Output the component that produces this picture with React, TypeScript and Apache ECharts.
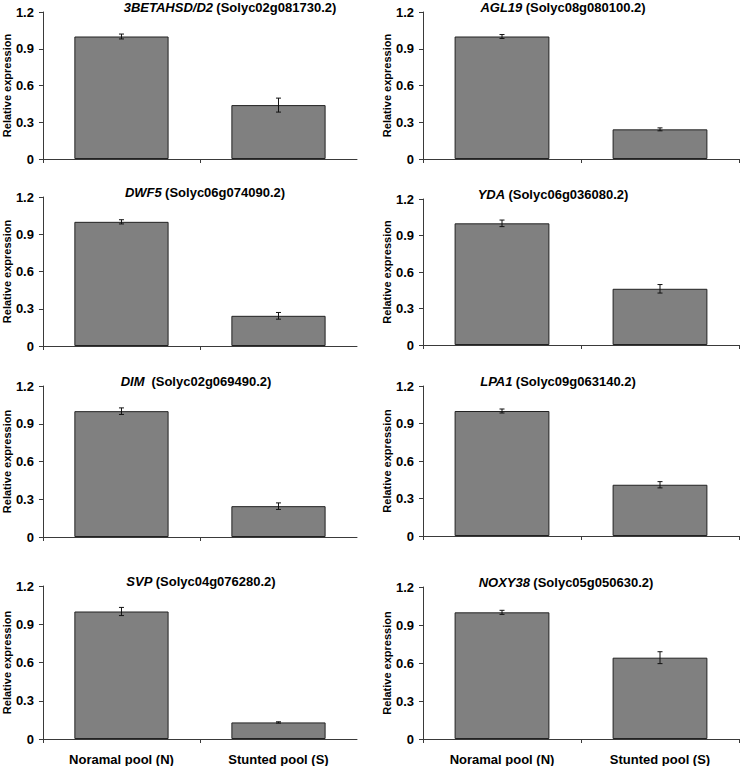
import React, { useEffect, useRef } from "react";
import * as echarts from "echarts";

const categories = ["Noramal pool (N)", "Stunted pool (S)"];
const genes = ["3BETAHSD/D2", "AGL19", "DWF5", "YDA", "DIM ", "LPA1", "SVP", "NOXY38"];
const geneIds = [
  "Solyc02g081730.2",
  "Solyc08g080100.2",
  "Solyc06g074090.2",
  "Solyc06g036080.2",
  "Solyc02g069490.2",
  "Solyc09g063140.2",
  "Solyc04g076280.2",
  "Solyc05g050630.2",
];
const normalValues = [1, 1, 1, 1, 1, 1, 1, 1];
const stuntedValues = [0.44, 0.242, 0.243, 0.462, 0.245, 0.41, 0.13, 0.642];
const normalErr = [0.02, 0.016, 0.017, 0.027, 0.026, 0.016, 0.032, 0.016];
const stuntedErr = [0.057, 0.012, 0.027, 0.035, 0.026, 0.025, 0.005, 0.047];
const yTicks = [0, 0.3, 0.6, 0.9, 1.2];

// layout (pixels) per panel: [left, top, width, height]
const panels = [
  [42, 12, 315, 147],
  [423, 12, 316, 147],
  [42, 197, 315, 149],
  [423, 199, 316, 146],
  [42, 386, 315, 151],
  [423, 386, 316, 150],
  [42, 586, 315, 154],
  [423, 587, 316, 153],
];
const titleCenters = [230, 563, 205, 553, 196, 558, 201, 566];

const FONT = "'Liberation Sans', Arial, Helvetica, sans-serif";
const AXIS_COLOR = "#3a3a3a";

export default function App() {
  const ref = useRef<HTMLDivElement>(null);
  useEffect(() => {
    if (!ref.current) return;
    const chart = echarts.init(ref.current, undefined, { renderer: "svg" });
    const grid: any[] = [];
    const xAxis: any[] = [];
    const yAxis: any[] = [];
    const series: any[] = [];
    const graphic: any[] = [];
    genes.forEach((g, i) => {
      const [l, t, w, h] = panels[i];
      const isBottom = i >= 6;
      grid.push({ left: l, top: t, width: w, height: h, containLabel: false });
      xAxis.push({
        type: "category",
        gridIndex: i,
        data: categories,
        axisLine: { lineStyle: { color: AXIS_COLOR, width: 1 } },
        axisTick: { show: true, length: 4, lineStyle: { color: AXIS_COLOR } },
        axisLabel: {
          show: isBottom,
          margin: 14,
          fontFamily: FONT,
          fontWeight: "bold",
          fontSize: 13,
          color: "#000",
        },
      });
      yAxis.push({
        type: "value",
        gridIndex: i,
        min: 0,
        max: 1.2,
        interval: 0.3,
        splitLine: { show: false },
        axisLine: { show: true, lineStyle: { color: AXIS_COLOR, width: 1 } },
        axisTick: { show: true, length: 4, lineStyle: { color: AXIS_COLOR } },
        axisLabel: {
          margin: 9,
          fontFamily: FONT,
          fontWeight: "bold",
          fontSize: 13,
          color: "#000",
          formatter: (v: number) => (yTicks.includes(+v.toFixed(1)) ? String(+v.toFixed(1)) : ""),
        },
        name: "Relative expression",
        nameLocation: "middle",
        nameGap: 27,
        nameTextStyle: {
          fontFamily: FONT,
          fontWeight: "bold",
          fontSize: 11,
          color: "#000",
        },
      });
      series.push({
        type: "bar",
        xAxisIndex: i,
        yAxisIndex: i,
        data: [normalValues[i], stuntedValues[i]],
        barCategoryGap: "40%",
        itemStyle: { color: "#808080", borderColor: "#222", borderWidth: 1 },
      });
      series.push({
        type: "custom",
        xAxisIndex: i,
        yAxisIndex: i,
        z: 5,
        data: [
          [0, normalValues[i], normalErr[i]],
          [1, stuntedValues[i], stuntedErr[i]],
        ],
        encode: { x: 0, y: 1 },
        renderItem: (params: any, api: any) => {
          const x = api.value(0);
          const v = api.value(1);
          const e = api.value(2);
          const hi = api.coord([x, v + e]);
          const lo = api.coord([x, v - e]);
          const cw = 2.5;
          const st = { stroke: "#111", lineWidth: 1 };
          return {
            type: "group",
            children: [
              { type: "line", shape: { x1: hi[0], y1: hi[1], x2: lo[0], y2: lo[1] }, style: st },
              { type: "line", shape: { x1: hi[0] - cw, y1: hi[1], x2: hi[0] + cw, y2: hi[1] }, style: st },
              { type: "line", shape: { x1: lo[0] - cw, y1: lo[1], x2: lo[0] + cw, y2: lo[1] }, style: st },
            ],
          };
        },
      });
      graphic.push({
        type: "text",
        x: titleCenters[i],
        y: t - 5,
        style: {
          text: `{i|${g}} {b|(${geneIds[i]})}`,
          align: "center",
          verticalAlign: "middle",
          rich: {
            i: { fontFamily: FONT, fontWeight: "bold", fontStyle: "italic", fontSize: 13, fill: "#000" },
            b: { fontFamily: FONT, fontWeight: "bold", fontSize: 13, fill: "#000" },
          },
        },
      });
    });
    chart.setOption({
      animation: false,
      backgroundColor: "#fff",
      grid,
      xAxis,
      yAxis,
      series,
      graphic,
    });
    return () => chart.dispose();
  }, []);
  return (
    <div
      ref={ref}
      style={{ position: "absolute", left: 0, top: 0, width: 740, height: 766 }}
    />
  );
}
